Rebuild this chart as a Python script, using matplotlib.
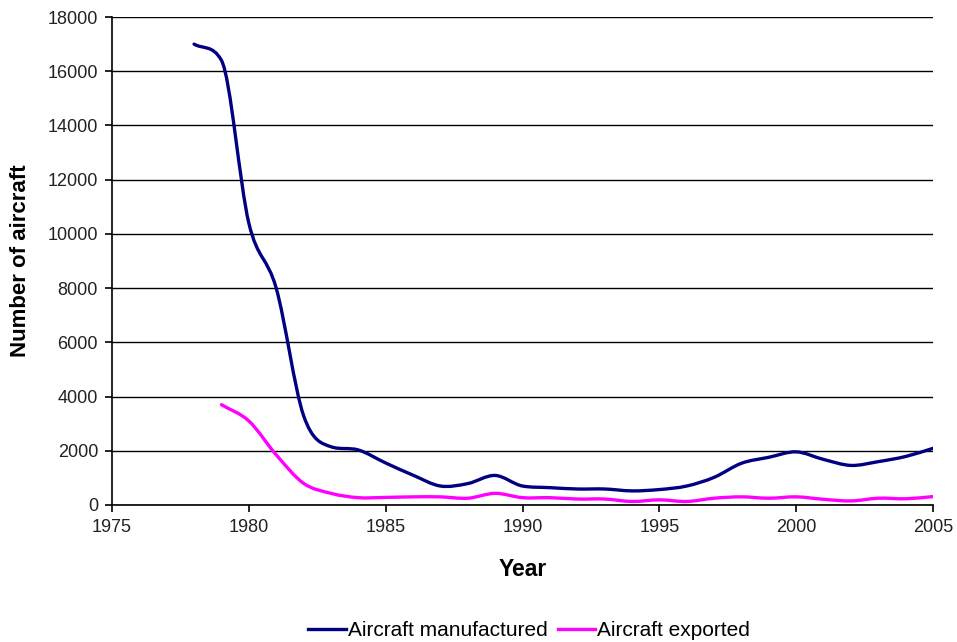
import numpy as np
import matplotlib
matplotlib.use('Agg')
import matplotlib.pyplot as plt
from matplotlib.path import Path
from matplotlib.patches import PathPatch
from matplotlib.lines import Line2D

plt.rcParams['font.family'] = ['Liberation Sans', 'DejaVu Sans']

# Annual values
years_made = list(range(1978, 2006))
made = [17000, 16400, 10400, 8000, 3300, 2150, 2030, 1550, 1100, 700, 790, 1090,
        700, 640, 590, 590, 520, 570, 700, 1020, 1540, 1760, 1960, 1680, 1460,
        1600, 1790, 2090]

years_exp = list(range(1979, 2006))
exported = [3700, 3100, 1850, 800, 430, 270, 280, 300, 300, 250, 430, 270, 270,
            220, 220, 130, 190, 130, 250, 300, 250, 300, 210, 150, 250, 230, 310]

x_ticks = [1975, 1980, 1985, 1990, 1995, 2000, 2005]
y_ticks = list(range(0, 18001, 2000))


def smooth_path(xs, ys):
    # Excel-like smoothed line: Catmull-Rom tangents, clamped on monotone runs
    x = np.asarray(xs, float)
    y = np.asarray(ys, float)
    h = np.diff(x)
    d = np.diff(y) / h
    m = np.zeros_like(y)
    m[0], m[-1] = d[0], d[-1]
    for i in range(1, len(y) - 1):
        m[i] = (y[i + 1] - y[i - 1]) / (x[i + 1] - x[i - 1])
        if d[i - 1] * d[i] > 0:
            lim = 3 * min(abs(d[i - 1]), abs(d[i]))
            m[i] = np.sign(m[i]) * min(abs(m[i]), lim)
    verts = [(x[0], y[0])]
    codes = [Path.MOVETO]
    for i in range(len(x) - 1):
        verts += [(x[i] + h[i] / 3, y[i] + m[i] * h[i] / 3),
                  (x[i + 1] - h[i] / 3, y[i + 1] - m[i + 1] * h[i] / 3),
                  (x[i + 1], y[i + 1])]
        codes += [Path.CURVE4] * 3
    return Path(verts, codes)


fig = plt.figure(figsize=(9.57, 6.42), dpi=100)
ax = fig.add_axes([0.117, 0.2134, 0.858, 0.7601])

navy = '#000080'
magenta = '#ff00ff'
ax.add_patch(PathPatch(smooth_path(years_made, made), fill=False,
                       edgecolor=navy, lw=2.4, capstyle='round'))
ax.add_patch(PathPatch(smooth_path(years_exp, exported), fill=False,
                       edgecolor=magenta, lw=2.4, capstyle='round'))

ax.set_xlim(1975, 2005)
ax.set_ylim(0, 18000)
ax.set_xticks(x_ticks)
ax.set_yticks(y_ticks)
ax.yaxis.grid(True, color='black', lw=1.0)
ax.set_axisbelow(True)
for s in ['top', 'right']:
    ax.spines[s].set_visible(False)
for s in ['left', 'bottom']:
    ax.spines[s].set_linewidth(1.2)
ax.tick_params(direction='out', length=5, width=1.2, labelsize=13,
               labelcolor='#222222', pad=5)

ax.set_xlabel('Year', fontsize=16.5, fontweight='bold', labelpad=16)
ax.set_ylabel('Number of aircraft', fontsize=16, fontweight='bold', labelpad=12)

handles = [Line2D([], [], color=navy, lw=2.4),
           Line2D([], [], color=magenta, lw=2.4)]
fig.legend(handles, ['Aircraft manufactured', 'Aircraft exported'],
           loc='center', bbox_to_anchor=(0.553, 0.018), ncol=2, frameon=False,
           fontsize=15, handlelength=1.8, handletextpad=0.1,
           columnspacing=0.5)

fig.savefig('out.png', dpi=100)
